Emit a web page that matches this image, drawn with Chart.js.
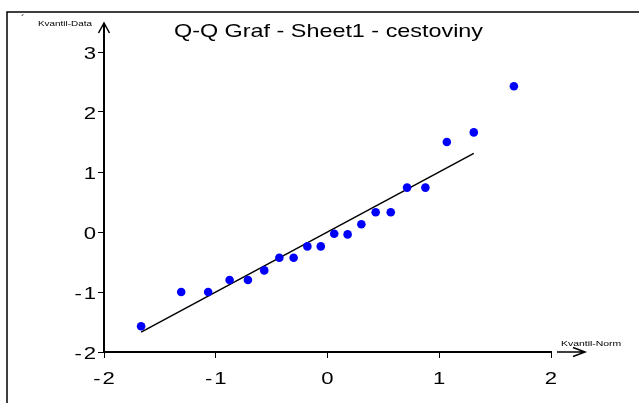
<!DOCTYPE html>
<html lang="cs">
<head>
  <meta charset="UTF-8">
  <title>Q-Q Graf</title>
  <style>
    html, body { margin: 0; padding: 0; background: #fff; }
    #wrap { width: 639px; height: 403px; }
  </style>
</head>
<body>
  <div id="wrap"><canvas id="qq" width="639" height="403"></canvas></div>
  <script src="https://cdn.jsdelivr.net/npm/chart.js"></script>
  <script>
    // Normal quantiles (x) and sorted sample values (y)
    var kvantilNorm = [-1.668, -1.309, -1.068, -0.876, -0.712, -0.566, -0.431, -0.303, -0.180, -0.060,
                        0.060,  0.180,  0.303,  0.431,  0.566,  0.712,  0.876,  1.068,  1.309,  1.668];
    var kvantilData = [-1.57, -1.00, -1.00, -0.80, -0.80, -0.64, -0.43, -0.43, -0.24, -0.24,
                       -0.03, -0.04,  0.13,  0.33,  0.33,  0.74,  0.74,  1.50,  1.66,  2.43];
    // Reference line
    var linieX = [-1.668, 1.309];
    var linieY = [-1.668, 1.309];
    // Axis ticks
    var xTicks = [-2, -1, 0, 1, 2];
    var yTicks = [-2, -1, 0, 1, 2, 3];

    var titulek = 'Q-Q Graf - Sheet1 - cestoviny';
    var popisY = 'Kvantil-Data';
    var popisX = 'Kvantil-Norm';

    var FONT = '"Liberation Sans", Arial, sans-serif';

    // text drawn slightly widened, like the old metafile output
    function kresliText(ctx, text, x, y, size, sx, align, spacing) {
      ctx.save();
      ctx.font = size + 'px ' + FONT;
      ctx.textAlign = 'left';
      ctx.textBaseline = 'alphabetic';
      spacing = spacing || 0;
      if ('letterSpacing' in ctx) ctx.letterSpacing = spacing + 'px';
      else spacing = 0;
      var w = (ctx.measureText(text).width - spacing) * sx;
      var left = x;
      if (align === 'center') left = x - w / 2;
      if (align === 'right') left = x - w;
      ctx.translate(left, y);
      ctx.scale(sx, 1);
      ctx.fillStyle = '#000';
      ctx.fillText(text, 0, 0);
      ctx.restore();
    }

    var dekorace = {
      id: 'dekorace',
      afterDraw: function(chart) {
        var ctx = chart.ctx;
        var a = chart.chartArea;
        var xs = chart.scales.x, ys = chart.scales.y;

        ctx.save();
        ctx.strokeStyle = '#000';
        ctx.lineCap = 'butt';

        // frame (top + left)
        ctx.lineWidth = 1.5;
        ctx.beginPath();
        ctx.moveTo(7, 403);
        ctx.lineTo(7, 12);
        ctx.lineTo(639, 12);
        ctx.stroke();

        // y axis extended up with an arrow
        ctx.lineWidth = 2;
        ctx.beginPath();
        ctx.moveTo(a.left, a.top);
        ctx.lineTo(a.left, a.top - 29);
        ctx.stroke();
        ctx.lineWidth = 1.5;
        ctx.beginPath();
        ctx.moveTo(a.left - 5.5, a.top - 19);
        ctx.lineTo(a.left, a.top - 29);
        ctx.lineTo(a.left + 5.5, a.top - 19);
        ctx.stroke();

        // x axis arrow after the end of the axis
        ctx.lineWidth = 1.5;
        ctx.beginPath();
        ctx.moveTo(a.right + 6, a.bottom);
        ctx.lineTo(a.right + 34, a.bottom);
        ctx.moveTo(a.right + 22, a.bottom - 4.5);
        ctx.lineTo(a.right + 34, a.bottom);
        ctx.lineTo(a.right + 22, a.bottom + 4.5);
        ctx.stroke();
        ctx.restore();

        // tick labels from the scales
        ys.ticks.forEach(function(t) {
          kresliText(ctx, String(t.value), a.left - 8, ys.getPixelForValue(t.value) + 6.5, 17, 1.3, 'right', 1.5);
        });
        xs.ticks.forEach(function(t) {
          kresliText(ctx, String(t.value), xs.getPixelForValue(t.value), a.bottom + 32, 17, 1.3, 'center', 1.5);
        });

        // title and axis names
        kresliText(ctx, titulek, (a.left + a.right) / 2 + 1, 36.5, 19, 1.23, 'center');
        kresliText(ctx, popisY, 38, 26, 7.5, 1.32, 'left');
        kresliText(ctx, popisX, 561, 346, 7.5, 1.39, 'left');
        kresliText(ctx, '\u00B4', 21, 23, 11, 1, 'left');
      }
    };

    var body = kvantilNorm.map(function(x, i) { return { x: x, y: kvantilData[i] }; });
    var linie = linieX.map(function(x, i) { return { x: x, y: linieY[i] }; });

    var ctx = document.getElementById('qq').getContext('2d');
    new Chart(ctx, {
      type: 'scatter',
      data: {
        datasets: [{
          label: 'Kvantil-Data',
          data: body,
          pointRadius: 4.3,
          pointBackgroundColor: 'rgb(0, 0, 250)',
          pointBorderWidth: 0,
          order: 1
        }, {
          type: 'line',
          label: 'linie',
          data: linie,
          showLine: true,
          borderColor: '#000',
          borderWidth: 1.5,
          pointRadius: 0,
          fill: false,
          order: 2
        }]
      },
      options: {
        responsive: false,
        animation: false,
        devicePixelRatio: 1,
        layout: { padding: { left: 7, right: 88, top: 52, bottom: 0 } },
        plugins: {
          legend: { display: false },
          tooltip: { enabled: false },
          title: { display: false }
        },
        scales: {
          x: {
            type: 'linear',
            min: -2,
            max: 2,
            afterBuildTicks: function(s) { s.ticks = xTicks.map(function(v) { return { value: v }; }); },
            afterFit: function(s) { s.height = 51; },
            ticks: { display: false },
            grid: { drawOnChartArea: false, drawTicks: true, tickLength: 6, color: '#000', lineWidth: 1 },
            border: { display: true, color: '#000', width: 2 }
          },
          y: {
            type: 'linear',
            min: -2,
            max: 3,
            afterBuildTicks: function(s) { s.ticks = yTicks.map(function(v) { return { value: v }; }); },
            afterFit: function(s) { s.width = 97; },
            ticks: { display: false },
            grid: { drawOnChartArea: false, drawTicks: true, tickLength: 6, color: '#000', lineWidth: 1 },
            border: { display: true, color: '#000', width: 2 }
          }
        }
      },
      plugins: [dekorace]
    });
  </script>
</body>
</html>
